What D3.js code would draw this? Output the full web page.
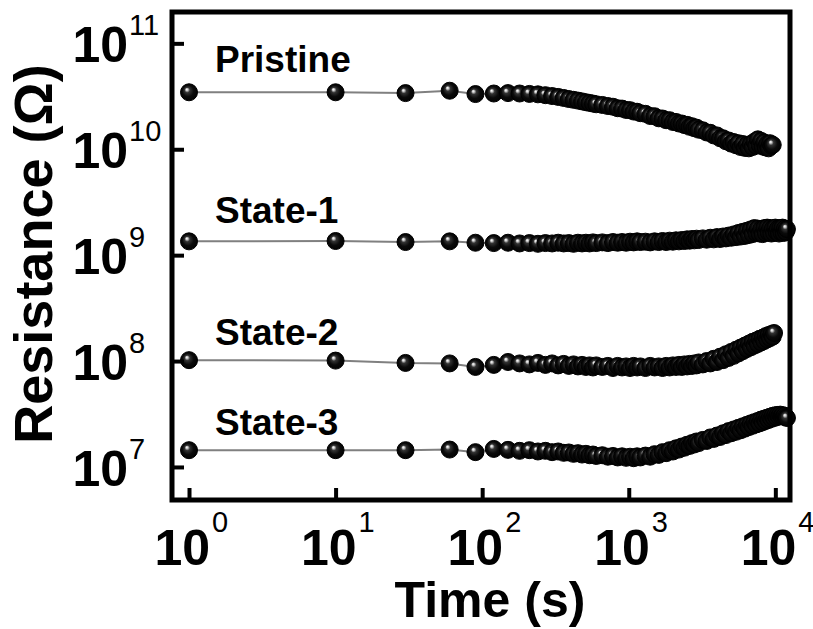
<!DOCTYPE html>
<html><head><meta charset="utf-8">
<script src="https://cdn.jsdelivr.net/npm/d3@7"></script>
<style>
body{margin:0;background:#fff}
svg{display:block}
text{font-family:"Liberation Sans",Arial,Helvetica,sans-serif;fill:#000}
</style>
</head><body>
<svg id="chart" width="813" height="629"></svg>
<script>
// ---- data (time in s, resistance in ohm) ----
const times = [1,10,30,60,90,120,150,180,210,240,270,300,330,360,390,420,450,480,510,540,570,600,
  660,720,780,840,900,960,1020,1080,1140,1200,
  1300,1400,1500,1600,1700,1800,1900,2000,2100,2200,2300,2400,2500,2600,2700,2800,2900,3000,
  3200,3400,3600,3800,4000,4200,4400,4600,4800,5000,5200,5400,5600,5800,6000,6200,6400,6600,6800,7000,
  7200,7400,7600,7800,8000,8200,8400,8600,8800,9000,9200,9400,9600,9800,10000,10200,10400,10600,10800,
  11000,11200,11400,11600,11800,12000];

const pristine = [3.45,3.45,3.39,3.57,3.32,3.36,3.39,3.36,3.33,3.30,3.24,3.18,3.12,3.05,2.98,2.93,2.88,2.83,2.78,2.74,2.70,2.66,
  2.62,2.56,2.52,2.44,2.42,2.35,2.34,2.27,2.26,2.19,
  2.16,2.06,2.05,1.96,1.95,1.88,1.88,1.81,1.81,1.75,1.75,1.69,1.70,1.63,1.65,1.58,1.60,1.53,
  1.51,1.44,1.43,1.35,1.35,1.27,1.27,1.19,1.21,1.13,1.17,1.09,1.14,1.05,1.12,1.03,1.10,1.02,1.12,1.05,
  1.18,1.08,1.24,1.10,1.20,1.06,1.16,1.04,1.12,1.02,1.14,1.08,1.10].map(v => v * 1e10);

const state1 = [1.35,1.36,1.33,1.35,1.31,1.30,1.31,1.29,1.30,1.28,1.30,1.29,1.31,1.29,1.30,1.28,1.31,1.29,1.31,1.29,1.32,1.30,
  1.32,1.30,1.33,1.31,1.33,1.31,1.34,1.32,1.35,1.33,
  1.34,1.32,1.35,1.33,1.36,1.33,1.37,1.34,1.38,1.35,1.39,1.36,1.41,1.37,1.42,1.38,1.43,1.39,
  1.44,1.40,1.46,1.41,1.48,1.42,1.50,1.44,1.53,1.46,1.57,1.48,1.62,1.50,1.66,1.52,1.70,1.55,1.75,1.58,
  1.80,1.62,1.78,1.60,1.76,1.58,1.80,1.62,1.82,1.64,1.80,1.60,1.78,1.62,1.82,1.66,1.78,1.60,1.80,1.64,
  1.82,1.62,1.78,1.66,1.76].map(v => v * 1e9);

const state2 = [1.02,1.01,0.96,0.95,0.88,0.92,0.98,0.95,0.93,0.96,0.92,0.95,0.91,0.94,0.90,0.93,0.89,0.92,0.88,0.91,0.87,0.91,
  0.88,0.90,0.86,0.90,0.87,0.89,0.86,0.90,0.87,0.89,
  0.86,0.90,0.87,0.89,0.86,0.90,0.87,0.91,0.88,0.92,0.88,0.93,0.89,0.94,0.90,0.95,0.91,0.97,
  0.93,1.00,0.95,1.05,0.98,1.10,1.02,1.16,1.07,1.22,1.12,1.28,1.18,1.34,1.24,1.40,1.30,1.46,1.35,1.52,
  1.40,1.56,1.45,1.62,1.50,1.66,1.55,1.72,1.60,1.76,1.65,1.80,1.70,1.84].map(v => v * 1e8);

const state3 = [1.44,1.44,1.44,1.46,1.38,1.48,1.45,1.42,1.44,1.40,1.42,1.38,1.40,1.36,1.37,1.33,1.35,1.31,1.33,1.29,1.31,1.27,
  1.29,1.25,1.27,1.23,1.26,1.22,1.25,1.21,1.26,1.23,
  1.28,1.25,1.32,1.30,1.38,1.35,1.44,1.40,1.50,1.46,1.56,1.52,1.62,1.58,1.68,1.63,1.74,1.68,
  1.80,1.76,1.90,1.84,1.98,1.92,2.08,2.00,2.18,2.08,2.26,2.15,2.34,2.22,2.42,2.30,2.50,2.38,2.58,2.45,
  2.65,2.52,2.72,2.58,2.80,2.65,2.86,2.72,2.92,2.78,2.98,2.85,3.04,2.90,3.08,2.95,3.10,3.00,3.12,3.02,
  3.08,2.98,3.05,2.95,2.90].map(v => v * 1e7);

const seriesNames = ["Pristine", "State-1", "State-2", "State-3"];
const seriesValues = [pristine, state1, state2, state3];

const xTickValues = [1, 10, 100, 1000, 10000];
const xTickExps = ["0", "1", "2", "3", "4"];
const yTickValues = [1e7, 1e8, 1e9, 1e10, 1e11];
const yTickExps = ["7", "8", "9", "10", "11"];
const xTitle = "Time (s)";
const yTitle = "Resistance (\u03A9)";

// ---- layout ----
const L = 172, R = 790, T = 12, B = 500;
const svg = d3.select("#chart");
svg.append("rect").attr("width", 813).attr("height", 629).attr("fill", "#fff");

const x = d3.scaleLog().domain([Math.pow(10, -0.116), Math.pow(10, 4.10)]).range([L, R]);
const y = d3.scaleLog().domain([Math.pow(10, 6.688), Math.pow(10, 11.296)]).range([B, T]);

// sphere gradient
const defs = svg.append("defs");
const g = defs.append("radialGradient").attr("id", "sphere")
  .attr("cx", "0.5").attr("cy", "0.5").attr("r", "0.55")
  .attr("fx", "0.36").attr("fy", "0.32");
g.append("stop").attr("offset", "0").attr("stop-color", "#ffffff");
g.append("stop").attr("offset", "0.11").attr("stop-color", "#cfcfcf");
g.append("stop").attr("offset", "0.28").attr("stop-color", "#333");
g.append("stop").attr("offset", "0.6").attr("stop-color", "#0a0a0a");
g.append("stop").attr("offset", "1").attr("stop-color", "#000");

const line = d3.line().x(d => x(d[0])).y(d => y(d[1]));

seriesValues.forEach(vals => {
  const pts = vals.map((v, i) => [times[i], v]);
  svg.append("path").datum(pts).attr("d", line)
    .attr("fill", "none").attr("stroke", "#808080").attr("stroke-width", 2);
  svg.append("g").selectAll("circle").data(pts).join("circle")
    .attr("cx", d => x(d[0])).attr("cy", d => y(d[1])).attr("r", 8.5)
    .attr("fill", "url(#sphere)").attr("stroke", "#000").attr("stroke-width", 1);
});

// series labels
const labelPos = [[215, 72], [215, 223], [215, 345], [215, 435]];
seriesNames.forEach((n, i) => {
  svg.append("text").attr("x", labelPos[i][0]).attr("y", labelPos[i][1])
    .attr("font-size", 37).attr("font-weight", "bold").text(n);
});

// axes ticks (inward)
const xAxis = d3.axisBottom(x).tickValues(xTickValues).tickSize(-12).tickSizeOuter(0).tickFormat("");
const yAxis = d3.axisLeft(y).tickValues(yTickValues).tickSize(-12).tickSizeOuter(0).tickFormat("");
const gx = svg.append("g").attr("transform", `translate(0,${B})`).call(xAxis);
const gy = svg.append("g").attr("transform", `translate(${L},0)`).call(yAxis);
[gx, gy].forEach(a => {
  a.select(".domain").remove();
  a.selectAll(".tick line").attr("stroke", "#000").attr("stroke-width", 4);
});

// frame
svg.append("rect").attr("x", L).attr("y", T).attr("width", R - L).attr("height", B - T)
  .attr("fill", "none").attr("stroke", "#000").attr("stroke-width", 5);

// tick labels
xTickValues.forEach((v, i) => {
  const px = x(v);
  svg.append("text").attr("x", px + 21).attr("y", 565).attr("text-anchor", "end")
    .attr("font-size", 50).attr("font-weight", "bold").text("10");
  svg.append("text").attr("x", px + 23).attr("y", 532).attr("text-anchor", "start")
    .attr("font-size", 29).text(xTickExps[i]);
});
yTickValues.forEach((v, i) => {
  const py = y(v);
  svg.append("text").attr("x", 128).attr("y", py + 19).attr("text-anchor", "end")
    .attr("font-size", 50).attr("font-weight", "bold").text("10");
  svg.append("text").attr("x", 129).attr("y", py - 8).attr("text-anchor", "start")
    .attr("font-size", 29).text(yTickExps[i]);
});

// titles
svg.append("text").attr("x", 490).attr("y", 617).attr("text-anchor", "middle")
  .attr("font-size", 50).attr("font-weight", "bold").text(xTitle);
svg.append("text").attr("transform", "translate(52,254) rotate(-90)").attr("text-anchor", "middle")
  .attr("font-size", 54).attr("font-weight", "bold").text(yTitle);
</script>
</body></html>
